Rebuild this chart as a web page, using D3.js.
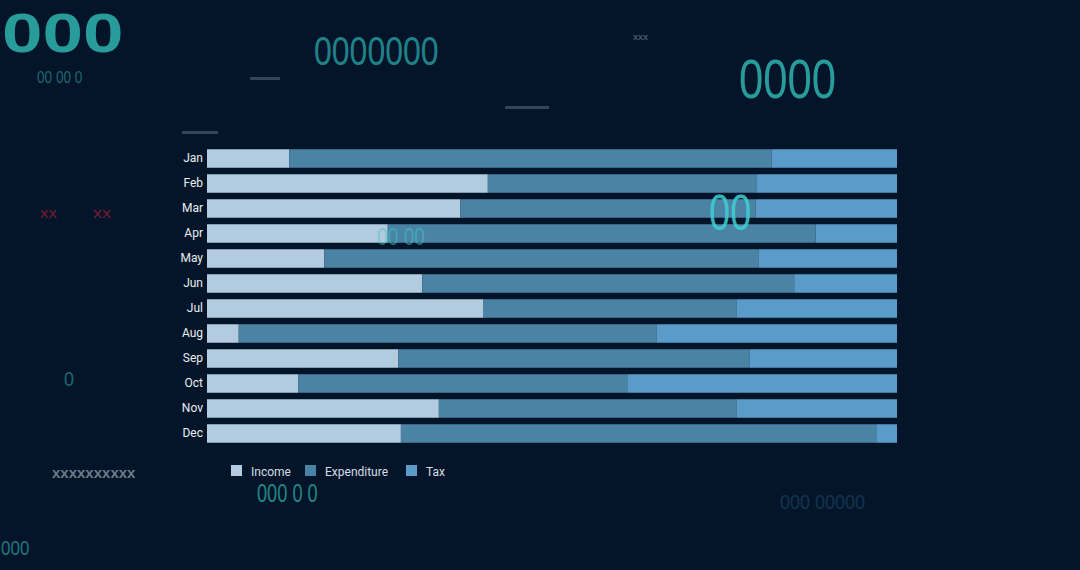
<!DOCTYPE html>
<html>
<head>
<meta charset="utf-8">
<script src="https://cdn.jsdelivr.net/npm/d3@7"></script>
<style>
  html, body { margin: 0; padding: 0; background: #041529; overflow: hidden; }
  svg { display: block; }
</style>
</head>
<body>
<svg id="chart" width="1080" height="570"></svg>
<script>
const months = ["Jan","Feb","Mar","Apr","May","Jun","Jul","Aug","Sep","Oct","Nov","Dec"];
const seriesNames = ["Income","Expenditure","Tax"];
const income      = [11.9, 40.7, 36.7, 26.2, 17.0, 31.2, 40.0,  4.6, 27.7, 13.2, 33.6, 28.1];
const expenditure = [69.9, 39.0, 42.8, 62.0, 62.9, 53.9, 36.8, 60.6, 50.9, 47.7, 43.2, 69.0];
const tax         = [18.2, 20.3, 20.5, 11.8, 20.1, 14.9, 23.2, 34.8, 21.4, 39.1, 23.2,  2.9];
const colors = ["#b3cbdf", "#4b83a4", "#5b9bc9"];

// decorative background texts
const decoTexts = ["000", "0000000", "0000", "00", "00 00", "000 0 0", "00 00 0", "0", "000", "xx", "xx", "xxxxxxxxxx", "xxx", "000 00000"];

const svg = d3.select("#chart");
const W = 1080, H = 570;

svg.append("rect").attr("width", W).attr("height", H).attr("fill", "#041529");

// x, y baseline, font size, horizontal scale, colour, opacity, on top of chart
const decoSpec = [
  {i:0,  x:2,   y:52,  s:56, k:1.3,  c:"#2fb3b0", o:0.85, top:false, b:true},
  {i:1,  x:314, y:65,  s:40, k:0.8,  c:"#2aa7a8", o:0.75, top:false, b:false},
  {i:2,  x:739, y:98,  s:56, k:0.78, c:"#2fb3b0", o:0.85, top:false, b:false},
  {i:3,  x:709, y:230, s:50, k:0.76, c:"#3fd0d4", o:0.85, top:true,  b:false},
  {i:4,  x:377, y:245, s:24, k:0.8,  c:"#3fc6cc", o:0.5,  top:true,  b:false},
  {i:5,  x:257, y:502, s:26, k:0.7,  c:"#2aa39f", o:0.8,  top:false, b:false},
  {i:6,  x:37,  y:83,  s:17, k:0.8,  c:"#2a9ea0", o:0.6,  top:false, b:false},
  {i:7,  x:64,  y:386, s:20, k:0.9,  c:"#2a9ea0", o:0.6,  top:false, b:false},
  {i:8,  x:1,   y:555, s:20, k:0.85, c:"#2a9ea0", o:0.7,  top:false, b:false},
  {i:9,  x:40,  y:218, s:14, k:1.2,  c:"#a0203a", o:0.7,  top:false, b:false},
  {i:10, x:93,  y:218, s:14, k:1.3,  c:"#a0203a", o:0.7,  top:false, b:false},
  {i:11, x:52,  y:478, s:15, k:1.0,  c:"#9aa5b2", o:0.7,  top:false, b:true},
  {i:12, x:633, y:40,  s:9,  k:1.1,  c:"#9aa8b6", o:0.6,  top:false, b:false},
  {i:13, x:780, y:509, s:20, k:0.9,  c:"#1e4a6a", o:0.6,  top:false, b:false}
];

const decoBack = svg.append("g").attr("class", "deco");
// faint blurred streaks
const streaks = [[182,131,36],[505,106,44],[250,77,30],[560,258,30],[285,326,14],[790,377,56]];
decoBack.selectAll("rect.streak").data(streaks).enter().append("rect")
  .attr("class","streak").attr("x", d=>d[0]).attr("y", d=>d[1]).attr("width", d=>d[2]).attr("height", 3)
  .attr("fill", (d,i)=> i===5 ? "#b0304a" : "#8fa0b0").attr("opacity", 0.35);

function drawDeco(parent, list) {
  list.forEach(d => {
    parent.append("text")
      .attr("transform", `translate(${d.x},${d.y}) scale(${d.k},1)`)
      .attr("font-family", "Liberation Sans, sans-serif")
      .attr("font-weight", d.b ? "bold" : "normal")
      .attr("font-size", d.s).attr("fill", d.c).attr("opacity", d.o)
      .text(decoTexts[d.i]);
  });
}
drawDeco(decoBack, decoSpec.filter(d => !d.top));

// chart
const x = d3.scaleLinear().domain([0, 1]).range([207, 897]);
const y = d3.scaleBand().domain(months).range([146, 446]).paddingInner(0.26).paddingOuter(0.13);

const data = months.map((m, i) => ({month: m, Income: income[i], Expenditure: expenditure[i], Tax: tax[i]}));
const stacked = d3.stack().keys(seriesNames).offset(d3.stackOffsetExpand)(data);

const g = svg.append("g");
g.selectAll("g.series").data(stacked).enter().append("g")
  .attr("class", "series").attr("fill", (d, i) => colors[i])
  .selectAll("rect").data(d => d).enter().append("rect")
  .attr("x", d => x(d[0]))
  .attr("width", d => x(d[1]) - x(d[0]))
  .attr("y", d => y(d.data.month))
  .attr("height", y.bandwidth());

const yAxis = d3.axisLeft(y).tickSize(0).tickPadding(4);
const ya = svg.append("g").attr("transform", "translate(207,0)").call(yAxis);
ya.select(".domain").remove();
ya.selectAll("text").attr("fill", "#e8eef4").attr("font-size", 12)
  .attr("font-family", "Roboto, sans-serif").attr("font-weight", 400);

// legend
const legendX = [231, 305, 406];
const lg = svg.append("g").attr("font-family", "Roboto, sans-serif");
seriesNames.forEach((n, i) => {
  lg.append("rect").attr("x", legendX[i]).attr("y", 465).attr("width", 11).attr("height", 11).attr("fill", colors[i]);
  lg.append("text").attr("x", legendX[i] + 20).attr("y", 476).attr("font-size", 12)
    .attr("fill", "#d4dde6").text(n);
});

// decorative texts overlapping the chart
drawDeco(svg.append("g").attr("class", "deco-top"), decoSpec.filter(d => d.top));
</script>
</body>
</html>
